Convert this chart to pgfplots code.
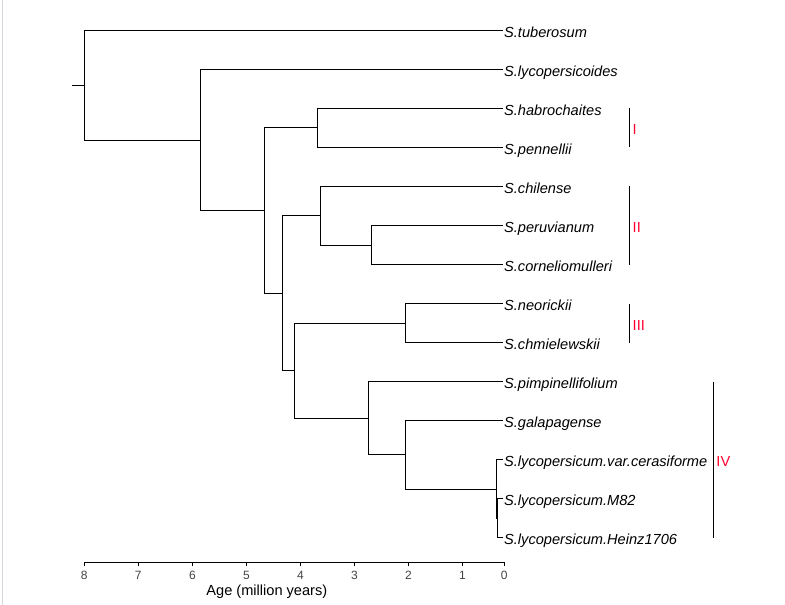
\documentclass[border=0pt]{standalone}
\usepackage{fontspec}
\setmainfont{Liberation Sans}
\usepackage{pgfplots}
\pgfplotsset{compat=1.18}
\definecolor{cladered}{RGB}{255,0,50}
\definecolor{tickgray}{RGB}{68,68,68}
\definecolor{bordergray}{RGB}{212,215,222}
\newcommand{\spname}[1]{\fontsize{14.6bp}{17bp}\selectfont\itshape #1}
\newcommand{\tl}[1]{\fontsize{12bp}{13bp}\selectfont #1}
\tikzset{tip/.style={anchor=base west, inner sep=0pt, xshift=1.4bp, yshift=-7bp},
         clade/.style={anchor=base west, inner sep=0pt, xshift=2.8bp, yshift=-7bp, text=cladered, font=\fontsize{14.6bp}{17bp}\selectfont}}
\begin{document}
\begin{tikzpicture}
\useasboundingbox (0,0) rectangle (785bp,605bp);
\fill[white] (0,0) rectangle (785bp,605bp);
\draw[bordergray, line width=1.3bp] (2.6bp,0) -- (2.6bp,605bp);
\begin{axis}[
  at={(84.3bp,43bp)}, anchor=south west,
  scale only axis, width=420bp, height=562bp,
  xmin=0.228, xmax=8, x dir=reverse,
  ymin=-14.616, ymax=-0.224,
  axis x line=bottom, axis y line=none,
  x axis line style={-, line width=0.9bp},
  xtick={8,7,6,5,4,3,2,1,0.228},
  xticklabels={\tl{8},\tl{7},\tl{6},\tl{5},\tl{4},\tl{3},\tl{2},\tl{1},\tl{0}},
  tick align=outside, major tick length=4bp,
  xtick style={black, line width=0.9bp},
  x tick label style={text=tickgray, yshift=-1.5bp},
  clip=false,
  cycle list={{black, solid, mark=none}},
  every axis plot post/.append style={black, solid, line width=1bp, mark=none},
]
% root stub
\addplot coordinates {(8.228,-2.405) (8,-2.405)};
% root: tuberosum & A
\addplot coordinates {(0.26,-1) (8,-1) (8,-3.81) (5.852,-3.81)};
% A: lycopersicoides & B
\addplot coordinates {(0.26,-2) (5.852,-2) (5.852,-5.62) (4.667,-5.62)};
% B: HP & C
\addplot coordinates {(3.685,-3.5) (4.667,-3.5) (4.667,-7.735) (4.333,-7.735)};
% HP: habrochaites & pennellii
\addplot coordinates {(0.26,-3) (3.685,-3) (3.685,-4) (0.26,-4)};
% C: CH & D
\addplot coordinates {(3.630,-5.75) (4.333,-5.75) (4.333,-9.72) (4.111,-9.72)};
% CH: chilense & PC
\addplot coordinates {(0.26,-5) (3.630,-5) (3.630,-6.5) (2.685,-6.5)};
% PC: peruvianum & corneliomulleri
\addplot coordinates {(0.26,-6) (2.685,-6) (2.685,-7) (0.26,-7)};
% D: NC & P
\addplot coordinates {(2.056,-8.5) (4.111,-8.5) (4.111,-10.94) (2.741,-10.94)};
% NC: neorickii & chmielewskii
\addplot coordinates {(0.26,-8) (2.056,-8) (2.056,-9) (0.26,-9)};
% P: pimpinellifolium & G
\addplot coordinates {(0.26,-10) (2.741,-10) (2.741,-11.875) (2.052,-11.875)};
% G: galapagense & LY2
\addplot coordinates {(0.26,-11) (2.052,-11) (2.052,-12.75) (0.376,-12.75)};
% LY2: cerasiforme & LY
\addplot coordinates {(0.26,-12) (0.376,-12) (0.376,-13.5) (0.352,-13.5)};
% LY: M82 & Heinz1706
\addplot coordinates {(0.26,-13) (0.352,-13) (0.352,-14) (0.26,-14)};
% clade bars
\addplot coordinates {(-2.093,-3) (-2.093,-4)};
\addplot coordinates {(-2.093,-5) (-2.093,-7)};
\addplot coordinates {(-2.093,-8) (-2.093,-9)};
\addplot coordinates {(-3.648,-10) (-3.648,-14)};
% tip labels
\node[tip] at (axis cs:0.26,-1) {\spname{S.tuberosum}};
\node[tip] at (axis cs:0.26,-2) {\spname{S.lycopersicoides}};
\node[tip] at (axis cs:0.26,-3) {\spname{S.habrochaites}};
\node[tip] at (axis cs:0.26,-4) {\spname{S.pennellii}};
\node[tip] at (axis cs:0.26,-5) {\spname{S.chilense}};
\node[tip] at (axis cs:0.26,-6) {\spname{S.peruvianum}};
\node[tip] at (axis cs:0.26,-7) {\spname{S.corneliomulleri}};
\node[tip] at (axis cs:0.26,-8) {\spname{S.neorickii}};
\node[tip] at (axis cs:0.26,-9) {\spname{S.chmielewskii}};
\node[tip] at (axis cs:0.26,-10) {\spname{S.pimpinellifolium}};
\node[tip] at (axis cs:0.26,-11) {\spname{S.galapagense}};
\node[tip] at (axis cs:0.26,-12) {\spname{S.lycopersicum.var.cerasiforme}};
\node[tip] at (axis cs:0.26,-13) {\spname{S.lycopersicum.M82}};
\node[tip] at (axis cs:0.26,-14) {\spname{S.lycopersicum.Heinz1706}};
% clade labels
\node[clade] at (axis cs:-2.093,-3.5) {I};
\node[clade] at (axis cs:-2.093,-6) {II};
\node[clade] at (axis cs:-2.093,-8.5) {III};
\node[clade, xshift=-0.3bp] at (axis cs:-3.648,-12) {IV};
% axis title
\node[anchor=center, inner sep=0pt] at (axis cs:4.622,-15.384) {\fontsize{14.6bp}{17bp}\selectfont Age (million years)};
\end{axis}
\end{tikzpicture}
\end{document}
